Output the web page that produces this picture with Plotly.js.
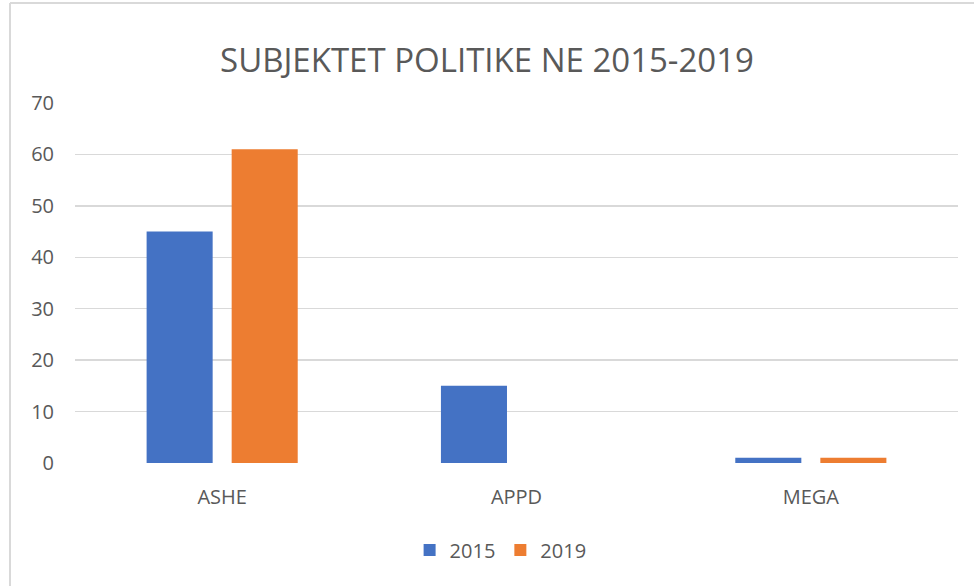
<!DOCTYPE html>
<html>
<head>
<meta charset="utf-8">
<script src="https://cdn.plot.ly/plotly-3.0.1.min.js"></script>
<style>body{margin:0;background:#fff}#chart{width:974px;height:586px}</style>
</head>
<body>
<div id="chart"></div>
<script>
const categories = ["ASHE", "APPD", "MEGA"];
const series2015 = [45, 15, 1];
const series2019 = [61, 0, 1];
const yTicks = [0, 10, 20, 30, 40, 50, 60, 70];
const seriesNames = ["2015", "2019"];

const font = "'Open Sans', 'Noto Sans', sans-serif";
const traces = [
  {type: "bar", name: seriesNames[0], x: categories, y: series2015,
   marker: {color: "#4472C4"}, hoverinfo: "x+y"},
  {type: "bar", name: seriesNames[1], x: categories, y: series2019,
   marker: {color: "#ED7D31"}, hoverinfo: "x+y"}
];
const layout = {
  width: 974, height: 586,
  margin: {l: 75, r: 16, t: 103, b: 123},
  paper_bgcolor: "#ffffff", plot_bgcolor: "#ffffff",
  font: {family: font, color: "#595959", size: 19},
  title: {text: "SUBJEKTET POLITIKE NE 2015-2019", font: {family: font, size: 33, color: "#595959"},
          x: 0.5, xanchor: "center", y: 0.897, yanchor: "middle"},
  barmode: "group", bargap: 0.422, bargroupgap: 0.2235,
  xaxis: {type: "category", showgrid: false, zeroline: false, showline: false,
          ticks: "", ticklabelstandoff: 20, tickfont: {size: 20, color: "#595959"}},
  yaxis: {range: [0, 70], tickvals: yTicks, showgrid: true, gridcolor: "#d9d9d9", gridwidth: 1.5,
          zeroline: false, showline: false, ticks: "", ticklabelstandoff: 20,
          tickfont: {size: 20, color: "#595959"}},
  showlegend: true,
  legend: {orientation: "h", x: 0.482, xanchor: "center", y: -0.242, yanchor: "middle",
           font: {size: 20, color: "#595959"}, itemwidth: 30, traceorder: "normal"},
  shapes: [
    {type: "line", xref: "paper", yref: "paper", x0: -0.0736, x1: 1.03, y0: 1.2778, y1: 1.2778,
     line: {color: "#d9d9d9", width: 2}},
    {type: "line", xref: "paper", yref: "paper", x0: -0.0736, x1: -0.0736, y0: -0.35, y1: 1.2778,
     line: {color: "#d9d9d9", width: 2}}
  ]
};
Plotly.newPlot("chart", traces, layout, {displayModeBar: false, staticPlot: true});
</script>
</body>
</html>
